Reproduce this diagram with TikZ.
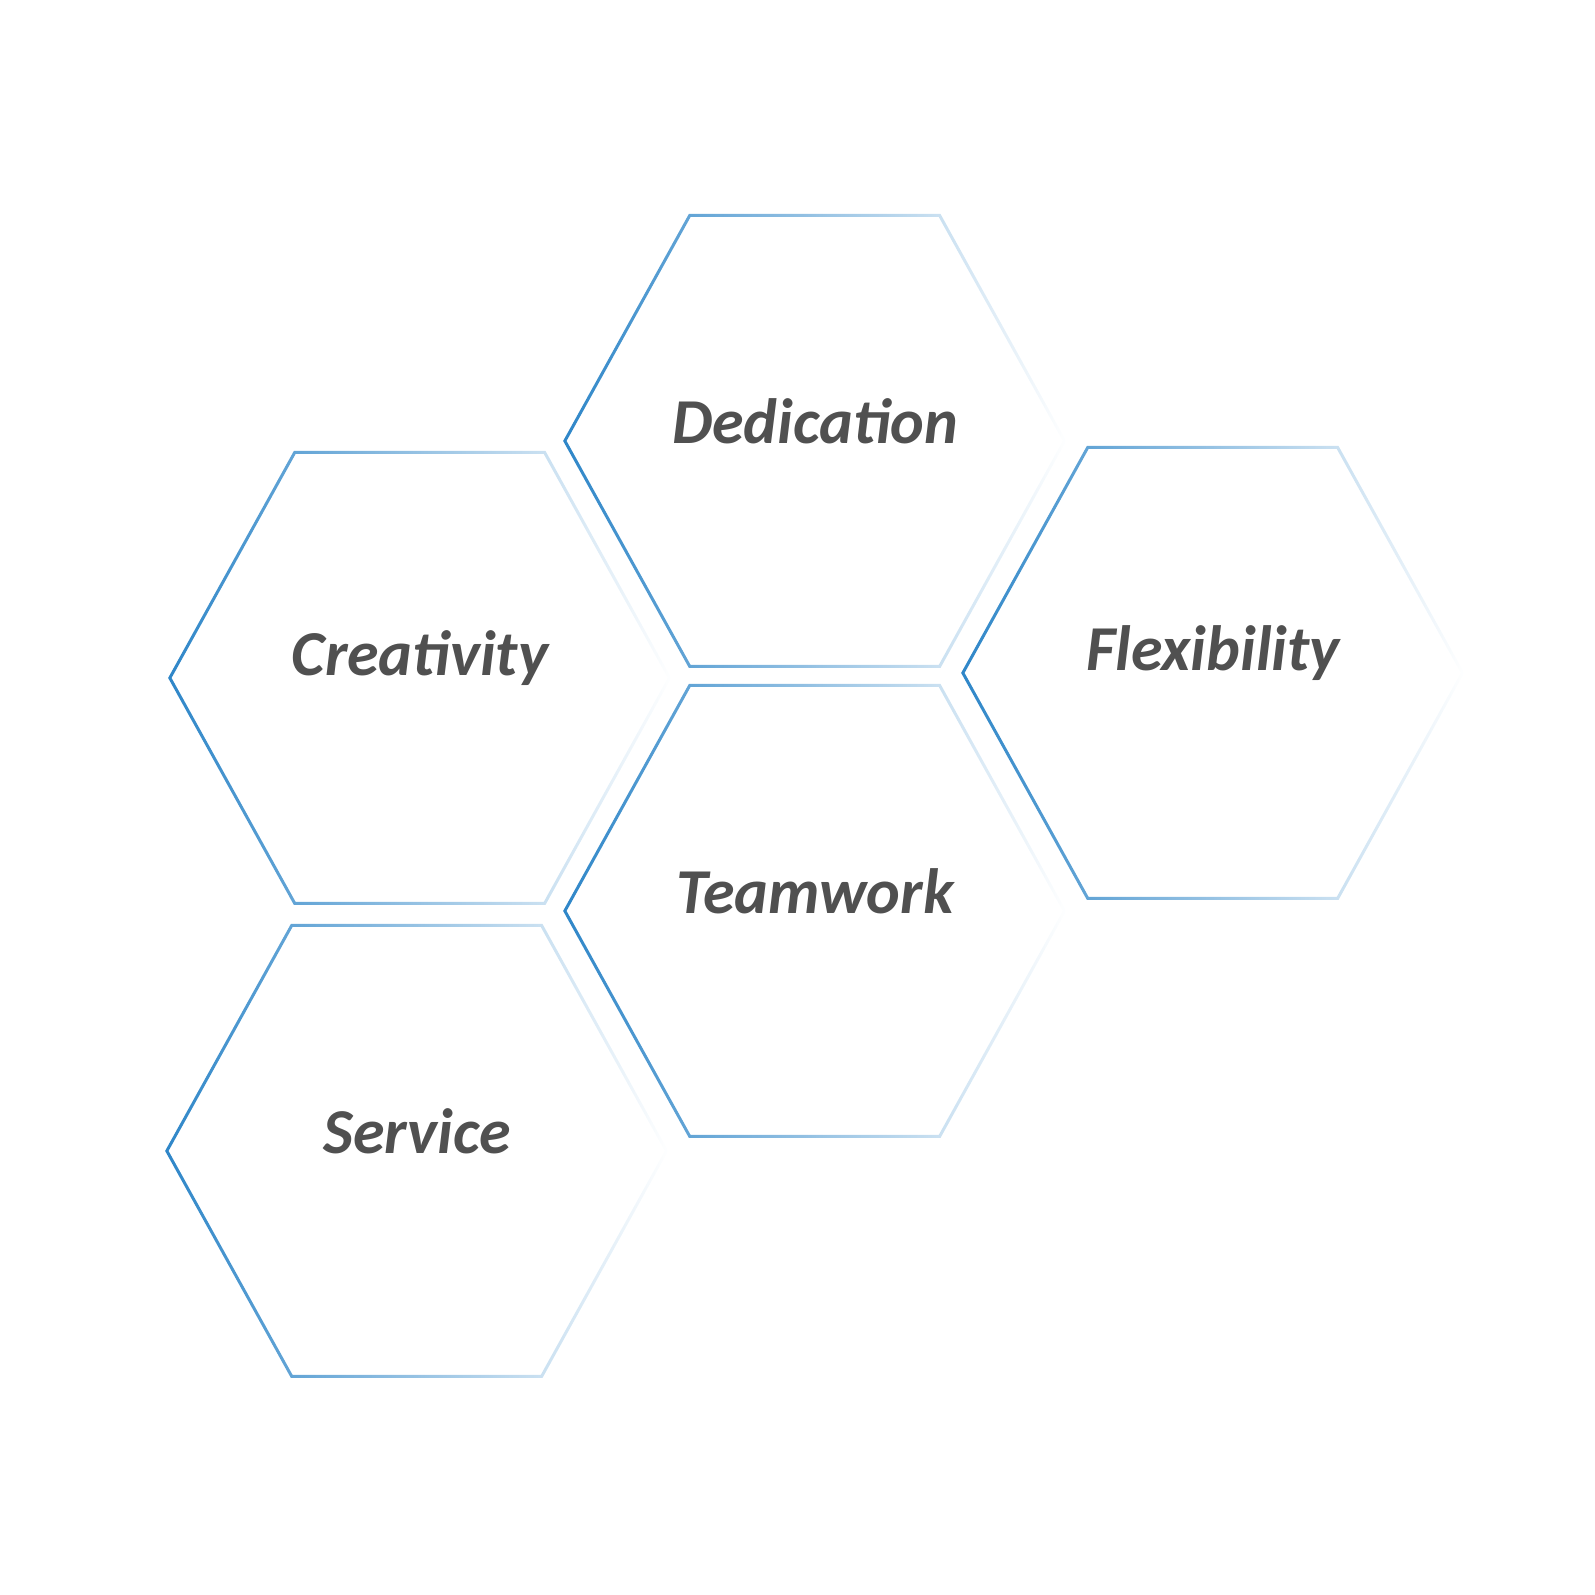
\documentclass[tikz,border=0pt]{standalone}
\usepackage{fontspec}
\setmainfont{Carlito}
\usetikzlibrary{fadings}
\definecolor{hexblue}{HTML}{2E86C8}
\definecolor{txtgray}{HTML}{505050}
\tikzset{
  hexline/.style={draw=hexblue, line width=3pt, line join=miter, path fading=east},
  hexlabel/.style={font=\fontsize{64}{74}\selectfont\bfseries\itshape, text=txtgray, anchor=center}
}
\newcommand\hexcell[4]{%
  \coordinate (#3) at (#1,#2);
  \path[hexline] ([xshift=-250pt]#3) -- ([xshift=-125pt,yshift=225.5pt]#3) -- ([xshift=125pt,yshift=225.5pt]#3)
     -- ([xshift=250pt]#3) -- ([xshift=125pt,yshift=-225.5pt]#3) -- ([xshift=-125pt,yshift=-225.5pt]#3) -- cycle;
  \node[hexlabel] (#3-t) at ([yshift=20pt]#3) {#4};
}
\begin{document}
\begin{tikzpicture}[x=1pt,y=-1pt]
\hexcell{815}{441}{ded}{Dedication}
\hexcell{420}{678}{cre}{Creativity}
\hexcell{1213}{673}{flx}{Flexibility}
\hexcell{815}{911}{tea}{Teamwork}
\hexcell{417}{1151}{ser}{Service}
\pgfresetboundingbox
\useasboundingbox (0,0) rectangle (1595,1595);
\end{tikzpicture}
\end{document}
